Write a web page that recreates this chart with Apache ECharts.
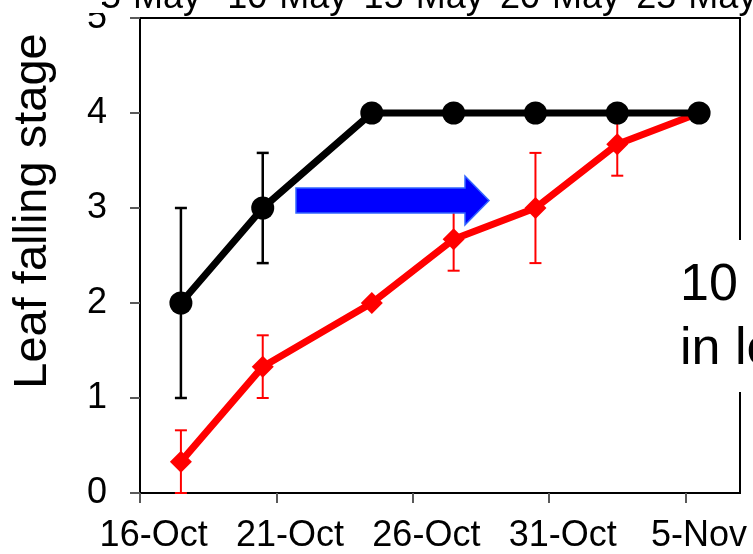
<!DOCTYPE html>
<html><head><meta charset="utf-8">
<script src="https://cdn.jsdelivr.net/npm/echarts@6/dist/echarts.min.js"></script>
<style>html,body{margin:0;padding:0;background:#fff}#c{width:753px;height:554px}</style>
</head><body><div id="c"></div>
<script>
// ---- data ----
const sampleDates = ['17-Oct', '20-Oct', '24-Oct', '27-Oct', '30-Oct', '2-Nov', '5-Nov'];
const blackMean = [2, 3, 4, 4, 4, 4, 4];
const blackErr  = [1, 0.58, 0, 0, 0, 0, 0];
const redMean   = [0.33, 1.33, 2, 2.67, 3, 3.67, 4];
const redErr    = [0.33, 0.33, 0, 0.33, 0.58, 0.33, 0];
const bottomTickLabels = ['16-Oct', '21-Oct', '26-Oct', '31-Oct', '5-Nov'];
const topTickLabels = ['5-May', '10-May', '15-May', '20-May', '25-May'];
const yTicks = [0, 1, 2, 3, 4, 5];
const yName = 'Leaf falling stage';
const noteLines = ['10 days', 'in leaf falling'];

// ---- helpers ----
const FONT = '"Liberation Sans", Arial, sans-serif';
const MONTHS = {May: 4, Oct: 9, Nov: 10};
function dayIndex(s) {
  const [d, m] = s.split('-');
  return (Date.UTC(2000, MONTHS[m], +d) - Date.UTC(2000, 9, 16)) / 86400000;
}
const xs = sampleDates.map(d => dayIndex(d) + 0.5); // points sit in the middle of their day slot
const bottomTickVals = bottomTickLabels.map(dayIndex);
const bottomLabelVals = bottomTickVals.map(v => v + 0.5);
const topLabelVals = bottomTickVals.map(v => v + 0.4);

function errData(mean, err) {
  const out = [];
  mean.forEach((m, i) => { if (err[i] > 0) out.push([xs[i], m - err[i], m + err[i]]); });
  return out;
}
function errSeries(mean, err, color, width, z) {
  return {
    type: 'custom', z: z, clip: false, silent: true,
    data: errData(mean, err),
    renderItem: function (params, api) {
      const x = api.value(0);
      const lo = api.coord([x, api.value(1)]);
      const hi = api.coord([x, api.value(2)]);
      const hw = 6;
      const st = {stroke: color, lineWidth: width};
      return {type: 'group', children: [
        {type: 'line', shape: {x1: lo[0], y1: lo[1], x2: hi[0], y2: hi[1]}, style: st},
        {type: 'line', shape: {x1: lo[0] - hw, y1: lo[1], x2: lo[0] + hw, y2: lo[1]}, style: st},
        {type: 'line', shape: {x1: hi[0] - hw, y1: hi[1], x2: hi[0] + hw, y2: hi[1]}, style: st}
      ]};
    }
  };
}

const chart = echarts.init(document.getElementById('c'), null, {renderer: 'canvas'});
chart.setOption({
  backgroundColor: '#fff',
  animation: false,
  grid: {left: 140, top: 18, right: 13, bottom: 61, containLabel: false, outerBoundsMode: 'none',
         show: true, borderColor: '#000', borderWidth: 2},
  xAxis: [{
    type: 'value', min: 0, max: 22, position: 'bottom',
    axisLine: {show: true, onZero: false, lineStyle: {color: '#000', width: 2}},
    axisTick: {show: true, length: 10, customValues: bottomTickVals, lineStyle: {color: '#595959', width: 2}},
    axisLabel: {
      customValues: bottomLabelVals, margin: 25, hideOverlap: false,
      formatter: v => bottomTickLabels[Math.round((v - 0.5) / 5)],
      color: '#000', fontSize: 36, fontFamily: FONT
    },
    splitLine: {show: false}
  }, {
    type: 'value', min: 0, max: 22, position: 'top',
    axisLine: {show: false}, axisTick: {show: false},
    axisLabel: {
      customValues: topLabelVals, margin: 2, hideOverlap: false,
      formatter: v => topTickLabels[Math.round((v - 0.4) / 5)],
      color: '#000', fontSize: 36, fontFamily: FONT
    },
    splitLine: {show: false}
  }],
  yAxis: {
    type: 'value', min: yTicks[0], max: yTicks[yTicks.length - 1], interval: 1,
    axisLine: {show: true, lineStyle: {color: '#000', width: 2}},
    axisTick: {show: true, length: 10, lineStyle: {color: '#595959', width: 2}},
    axisLabel: {margin: 33, color: '#000', fontSize: 36, fontFamily: FONT},
    splitLine: {show: false}
  },
  series: [
    errSeries(redMean, redErr, '#ff0000', 2, 1),
    errSeries(blackMean, blackErr, '#000000', 2.5, 1),
    {
      type: 'line', z: 2, data: xs.map((x, i) => [x, redMean[i]]),
      lineStyle: {color: '#ff0000', width: 7},
      symbol: 'diamond', symbolSize: 22,
      itemStyle: {color: '#ff0000'}
    },
    {
      type: 'line', z: 3, data: xs.map((x, i) => [x, blackMean[i]]),
      lineStyle: {color: '#000', width: 7},
      symbol: 'circle', symbolSize: 23,
      itemStyle: {color: '#000'}
    }
  ],
  graphic: [
    {type: 'rect', z: 50, shape: {x: 80, y: 0, width: 22, height: 13}, style: {fill: '#fff'}},
    {type: 'text', z: 50, x: 33, y: 211, rotation: Math.PI / 2,
     style: {text: yName, font: '47px ' + FONT, fill: '#000', align: 'center', verticalAlign: 'middle'}},
    {type: 'polygon', z: 60,
     shape: {points: [[296, 188], [465, 188], [465, 176], [489, 200.5], [465, 225], [465, 213], [296, 213]]},
     style: {fill: '#0000ff', stroke: '#3366ff', lineWidth: 1.5}},
    {type: 'rect', z: 70, shape: {x: 674, y: 240, width: 90, height: 152}, style: {fill: '#fff'}},
    {type: 'text', z: 71, x: 680, y: 286,
     style: {text: noteLines[0], font: '52px ' + FONT, fill: '#000', align: 'left', verticalAlign: 'middle'}},
    {type: 'text', z: 71, x: 680, y: 350,
     style: {text: noteLines[1], font: '52px ' + FONT, fill: '#000', align: 'left', verticalAlign: 'middle'}}
  ]
});
</script>
</body></html>
